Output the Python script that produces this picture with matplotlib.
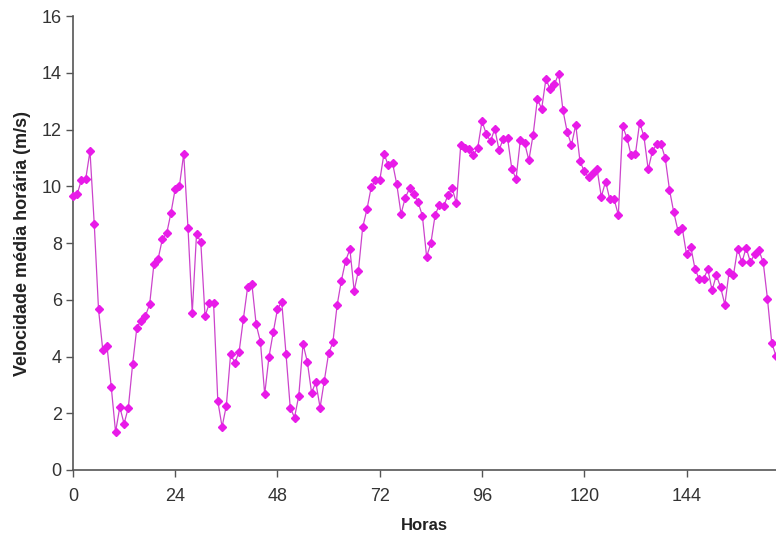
import matplotlib; matplotlib.use("Agg")
import matplotlib.pyplot as plt

# hourly mean wind speed (m/s), hours 0..165
horas = list(range(166))
velocidade = [
    9.66, 9.72, 10.24, 10.26, 11.24, 8.67, 5.67, 4.23, 4.36, 2.91,
    1.34, 2.22, 1.63, 2.20, 3.72, 5.02, 5.27, 5.43, 5.84, 7.25,
    7.45, 8.15, 8.34, 9.06, 9.91, 10.02, 11.15, 8.54, 5.54, 8.31,
    8.04, 5.43, 5.87, 5.90, 2.43, 1.52, 2.27, 4.08, 3.78, 4.17,
    5.33, 6.45, 6.55, 5.13, 4.52, 2.67, 3.98, 4.85, 5.67, 5.93,
    4.10, 2.19, 1.85, 2.62, 4.44, 3.82, 2.73, 3.09, 2.20, 3.15,
    4.11, 4.50, 5.81, 6.68, 7.38, 7.78, 6.32, 7.03, 8.56, 9.19,
    9.97, 10.21, 10.21, 11.15, 10.74, 10.83, 10.07, 9.03, 9.60, 9.93,
    9.72, 9.44, 8.97, 7.52, 7.99, 8.99, 9.35, 9.29, 9.69, 9.93,
    9.40, 11.44, 11.36, 11.32, 11.10, 11.36, 12.30, 11.85, 11.59, 12.03,
    11.28, 11.68, 11.70, 10.61, 10.27, 11.63, 11.53, 10.92, 11.82, 13.07,
    12.73, 13.78, 13.42, 13.60, 13.97, 12.68, 11.91, 11.46, 12.17, 10.88,
    10.53, 10.32, 10.46, 10.62, 9.63, 10.17, 9.54, 9.55, 8.99, 12.12,
    11.72, 11.09, 11.13, 12.25, 11.76, 10.60, 11.24, 11.48, 11.49, 11.00,
    9.88, 9.09, 8.43, 8.53, 7.60, 7.87, 7.08, 6.73, 6.74, 7.07,
    6.34, 6.87, 6.44, 5.83, 6.99, 6.86, 7.80, 7.32, 7.84, 7.32,
    7.62, 7.74, 7.32, 6.03, 4.48, 4.02,
]
xticks = [0, 24, 48, 72, 96, 120, 144]
yticks = [0, 2, 4, 6, 8, 10, 12, 14, 16]

plt.rcParams['font.family'] = ['Liberation Sans Narrow', 'Liberation Sans', 'DejaVu Sans']
axcol = "#555555"

fig = plt.figure(figsize=(7.76, 5.38), dpi=100)
ax = fig.add_axes([0.094, 0.1264, 0.906, 0.8436])
ax.plot(horas, velocidade, color="#cc44cc", lw=0.9, marker="D", ms=3.6,
        mfc="#e81be8", mec="#e81be8", clip_on=False, zorder=3)

ax.set_xlim(0, 165); ax.set_ylim(0, 16)
ax.set_xticks(xticks); ax.set_yticks(yticks)
ax.tick_params(direction="out", length=5, width=1, color=axcol,
               labelsize=13, labelcolor="#333333")
ax.tick_params(axis="x", pad=8)
ax.tick_params(axis="y", pad=3)
for s in ["top", "right"]:
    ax.spines[s].set_visible(False)
for s in ["left", "bottom"]:
    ax.spines[s].set_color(axcol); ax.spines[s].set_linewidth(1.2)

lab = dict(fontweight="bold", family=['Liberation Sans', 'DejaVu Sans'], color="#222222")
ax.set_xlabel("Horas", fontsize=12, labelpad=9, **lab)
ax.set_ylabel("Velocidade média horária (m/s)", fontsize=13, labelpad=8, **lab)

fig.savefig("out.png", dpi=100)
